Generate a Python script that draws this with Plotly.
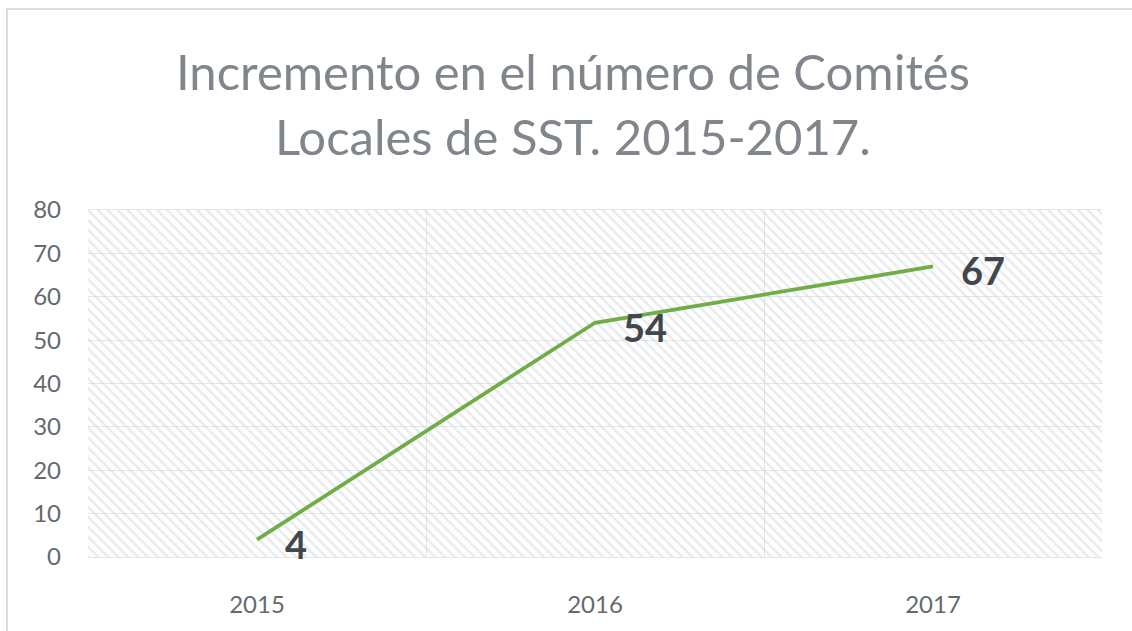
import plotly.graph_objects as go

years = ["2015", "2016", "2017"]
comites = [4, 54, 67]
y_max = 80
title_lines = ["Incremento en el número de Comités", "Locales de SST. 2015-2017."]

FONT = "Lato, Carlito, sans-serif"
L, R, T, B = 88, 30, 210, 74
W, H = 1132, 631
PW, PH = W - L - R, H - T - B
GRID = "#e3e5ea"

def px_x(p):
    return (p - L) / PW

def px_y(p):
    return (H - B - p) / PH

fig = go.Figure()

# hatched plot-area background (transparent between hatch lines so gridlines show)
fig.add_trace(go.Bar(
    x=years, y=[y_max] * len(years), width=1,
    marker=dict(color="rgba(0,0,0,0)", line=dict(width=0),
                pattern=dict(shape="\\", fgcolor="#d2d5db", bgcolor="rgba(0,0,0,0)",
                             size=7, solidity=0.35)),
    hoverinfo="skip", showlegend=False,
))

fig.add_trace(go.Scatter(
    x=years, y=comites, mode="lines",
    line=dict(color="#70ad47", width=3.8),
    showlegend=False, cliponaxis=False, hoverinfo="skip",
))

annotations = []
for i, v in enumerate(comites):
    annotations.append(dict(
        x=i, y=v, xref="x", yref="y", text=str(v), showarrow=False,
        xanchor="left", yanchor="middle", xshift=26, yshift=-4,
        font=dict(family=FONT, size=38, color="#40474d", weight="bold"),
    ))

title_y = [71, 136]
for line, ty in zip(title_lines, title_y):
    annotations.append(dict(
        x=px_x(573), y=px_y(ty), xref="paper", yref="paper", text=line,
        showarrow=False, xanchor="center", yanchor="middle",
        font=dict(family=FONT, size=49, color="#80868c"),
    ))

fig.update_layout(
    width=W, height=H,
    margin=dict(l=L, r=R, t=T, b=B, autoexpand=False),
    paper_bgcolor="white", plot_bgcolor="white",
    bargap=0,
    font=dict(family=FONT, color="#636a70"),
    xaxis=dict(type="category", range=[-0.5, 2.5], showgrid=True, gridcolor=GRID, gridwidth=1.2,
               tickson="boundaries", zeroline=False,
               tickfont=dict(size=24, color="#636a70"), ticks="", ticklabelstandoff=26,
               showline=True, linecolor=GRID, linewidth=1.2, mirror=True, automargin=False),
    yaxis=dict(range=[0, y_max], dtick=10, showgrid=True, gridcolor=GRID, gridwidth=1.2,
               zeroline=False,
               tickfont=dict(size=24, color="#636a70"), ticklabelstandoff=26,
               automargin=False),
    annotations=annotations,
    shapes=[
        dict(type="rect", xref="paper", yref="paper",
             x0=px_x(7), x1=px_x(1140), y0=px_y(640), y1=px_y(9),
             line=dict(color="#d9dbe0", width=2), fillcolor="rgba(0,0,0,0)", layer="below"),
    ],
)

fig.write_html("out.html", post_script="document.body.style.margin='0';",
               config={"displayModeBar": False})
